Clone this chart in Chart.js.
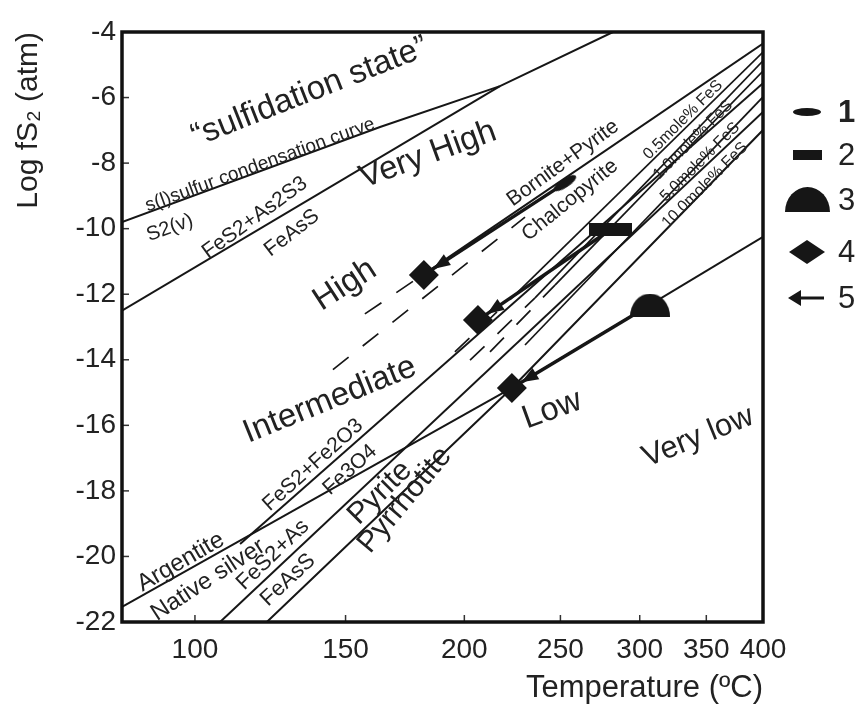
<!DOCTYPE html>
<html><head><meta charset="utf-8">
<script src="https://cdn.jsdelivr.net/npm/chart.js@4"></script>
<style>html,body{margin:0;padding:0;background:#fff}#wrap{width:859px;height:707px;position:relative}</style>
</head><body><div id="wrap"><canvas id="c"></canvas></div>
<script>
// ---- axes ----
const tempTicks = [100, 150, 200, 250, 300, 350, 400];
const yTicks = [-22, -20, -18, -16, -14, -12, -10, -8, -6, -4];
const tempMin = 79.8, tempMax = 400;
const logMin = -22, logMax = -4;

// ---- phase boundaries (temperature °C, log fS2) ----
const sulfurCurveT = [79.8, 163.4, 217.4, 282.1];
const sulfurCurveLog = [-9.8, -6.9, -5.65, -4.0];
const orpimentT = [79.8, 217.4];
const orpimentLog = [-12.5, -5.65];
const bnPyT = [188.8, 400];
const bnPyLog = [-11.05, -4.35];
const bnPyDashT = [157.4, 188.8];
const bnPyDashLog = [-12.6, -11.05];
const highIntDashT = [145.3, 230.4];
const highIntDashLog = [-14.3, -9.65];
const fes05T = [225.1, 400];
const fes05Log = [-12.02, -4.61];
const fes05DashT = [195.6, 225.1];
const fes05DashLog = [-13.76, -12.02];
const fes1T = [235.8, 400];
const fes1Log = [-12.11, -4.88];
const fes1DashT = [202.7, 235.8];
const fes1DashLog = [-14.01, -12.11];
const fes5T = [246.9, 400];
const fes5Log = [-11.72, -5.19];
const fes5DashT = [212.4, 246.9];
const fes5DashLog = [-13.76, -11.72];
const fes10T = [230.4, 400];
const fes10Log = [-13.55, -5.98];
const arsenopyriteT = [107.5, 400];
const arsenopyriteLog = [-22, -6.44];
const pyPoT = [122.3, 223.5, 400];
const pyPoLog = [-22, -14.86, -6.99];
const argentiteT = [79.8, 223.5];
const argentiteLog = [-21.54, -14.86];
const magnetiteT = [113.7, 400];
const magnetiteLog = [-19.62, -5.56];
const veryLowT = [223.5, 400];
const veryLowLog = [-14.86, -10.25];

// ---- samples ----
const sample1T = [252.6];
const sample1Log = [-8.61];
const sample2T = [280.2];
const sample2Log = [-10.04];
const sample3T = [307.2];
const sample3Log = [-12.33];
const sample4T = [181.7, 206.5, 223.5];
const sample4Log = [-11.41, -12.79, -14.86];
const arrowFromT = [252.6, 280.2, 307.2];
const arrowFromLog = [-8.61, -10.04, -12.33];
const arrowToT = [181.7, 206.5, 223.5];
const arrowToLog = [-11.41, -12.79, -14.86];

// ---- text annotations ----
const plotLabels = [
  {text:'\u201Csulfidation state\u201D', T:137.0, log:-5.83, angle:-21.5, size:33},
  {text:'s(l)sulfur condensation curve', T:120.1, log:-8.06, angle:-20, size:19},
  {text:'S2(v)', T:92.8, log:-9.98, angle:-20, size:20},
  {text:'FeS2+As2S3', T:118.4, log:-9.67, angle:-36, size:21},
  {text:'FeAsS', T:130.7, log:-10.13, angle:-38, size:21},
  {text:'Very High', T:183.5, log:-7.75, angle:-20, size:33},
  {text:'High', T:149.8, log:-11.72, angle:-33, size:33},
  {text:'Intermediate', T:144.2, log:-15.23, angle:-22, size:33},
  {text:'Bornite+Pyrite', T:251.5, log:-8.0, angle:-36, size:21},
  {text:'Chalcopyrite', T:255.6, log:-9.13, angle:-39, size:21},
  {text:'0.5mole% FeS', T:331.5, log:-6.68, angle:-45, size:16},
  {text:'1.0mole% FeS', T:339.3, log:-7.29, angle:-45, size:16},
  {text:'5.0mole% FeS', T:344.9, log:-7.97, angle:-45, size:16},
  {text:'10.0mole% FeS', T:348.9, log:-8.67, angle:-45, size:16},
  {text:'Argentite', T:95.9, log:-20.17, angle:-30, size:24},
  {text:'Native silver', T:103.9, log:-20.72, angle:-33, size:24},
  {text:'FeS2+Fe2O3', T:138.1, log:-17.21, angle:-42, size:21},
  {text:'Fe3O4', T:151.7, log:-17.36, angle:-42, size:21},
  {text:'FeS2+As', T:124.3, log:-19.95, angle:-44, size:22},
  {text:'FeAsS', T:129.4, log:-20.72, angle:-43, size:22},
  {text:'Pyrite', T:163.4, log:-18.06, angle:-45, size:30},
  {text:'Pyrrhotite', T:173.6, log:-18.28, angle:-50, size:30},
  {text:'Low', T:245.2, log:-15.53, angle:-20, size:33},
  {text:'Very low', T:343.3, log:-16.36, angle:-22, size:31}
];
const legendNumbers = ['1', '2', '3', '4', '5'];

const FONT = "'Liberation Sans', Arial, sans-serif";
const INK = '#161616';
const X = t => -1000 / (t + 273.15);
const pts = (ts, ls) => ts.map((t, i) => ({x: X(t), y: ls[i]}));
function lineDs(ts, ls, extra) {
  return Object.assign({type: 'scatter', data: pts(ts, ls), showLine: true, borderColor: INK,
    borderWidth: 1.7, pointRadius: 0, pointHoverRadius: 0, fill: false, order: 5}, extra || {});
}
const DASH = {borderDash: [20, 18]};

function mk(w, h, draw) {
  const c = document.createElement('canvas'); c.width = w; c.height = h;
  const g = c.getContext('2d'); g.fillStyle = INK; draw(g, w, h); return c;
}
const ellipseImg = mk(26, 9, (g, w, h) => { g.beginPath(); g.ellipse(w/2, h/2, w/2, h/2, 0, 0, 2*Math.PI); g.fill(); });
const ellipseLegend = mk(28, 8, (g, w, h) => { g.beginPath(); g.ellipse(w/2, h/2, w/2, h/2, 0, 0, 2*Math.PI); g.fill(); });
const rectImg = mk(43, 13, (g, w, h) => g.fillRect(0, 0, w, h));
const rectLegend = mk(29, 10, (g, w, h) => g.fillRect(0, 0, w, h));
const semiImg = mk(40, 23, (g, w, h) => { g.beginPath(); g.ellipse(w/2, h, w/2, h, 0, Math.PI, 2*Math.PI); g.closePath(); g.fill(); });
const semiLegend = mk(45, 25, (g, w, h) => { g.beginPath(); g.ellipse(w/2, h, w/2, h, 0, Math.PI, 2*Math.PI); g.closePath(); g.fill(); });

const datasets = [
  {type: 'scatter', data: pts(sample4T, sample4Log), pointStyle: 'rectRot', pointRadius: 15, backgroundColor: INK, borderWidth: 0, order: 0},
  {type: 'scatter', data: pts(sample1T, sample1Log), pointStyle: ellipseImg, pointRotation: -33, pointRadius: 10, backgroundColor: INK, borderWidth: 0, order: 0},
  {type: 'scatter', data: pts(sample2T, sample2Log), pointStyle: rectImg, pointRadius: 10, backgroundColor: INK, borderWidth: 0, order: 0},
  {type: 'scatter', data: pts(sample3T, sample3Log), pointStyle: semiImg, pointRadius: 10, backgroundColor: INK, borderWidth: 0, order: 0}
];
arrowFromT.forEach((t, i) => {
  datasets.push(lineDs([t, arrowToT[i]], [arrowFromLog[i], arrowToLog[i]], {borderWidth: 3.5, order: 1}));
});
datasets.push(
  lineDs(sulfurCurveT, sulfurCurveLog, {borderWidth: 2}),
  lineDs(orpimentT, orpimentLog, {borderWidth: 2}),
  lineDs(bnPyT, bnPyLog, {borderWidth: 2}),
  lineDs(bnPyDashT, bnPyDashLog, DASH),
  lineDs(highIntDashT, highIntDashLog, DASH),
  lineDs(fes05T, fes05Log),
  lineDs(fes05DashT, fes05DashLog, DASH),
  lineDs(fes1T, fes1Log),
  lineDs(fes1DashT, fes1DashLog, DASH),
  lineDs(fes5T, fes5Log),
  lineDs(fes5DashT, fes5DashLog, DASH),
  lineDs(fes10T, fes10Log),
  lineDs(arsenopyriteT, arsenopyriteLog, {borderWidth: 2}),
  lineDs(pyPoT, pyPoLog, {borderWidth: 2}),
  lineDs(argentiteT, argentiteLog, {borderWidth: 2}),
  lineDs(magnetiteT, magnetiteLog, {borderWidth: 2}),
  lineDs(veryLowT, veryLowLog, {borderWidth: 2})
);

const decor = {
  id: 'decor',
  afterDatasetsDraw(chart) {
    const ctx = chart.ctx, xs = chart.scales.x, ys = chart.scales.y;
    ctx.save();
    ctx.fillStyle = INK;
    arrowFromT.forEach((t, i) => {
      const x0 = xs.getPixelForValue(X(t)), y0 = ys.getPixelForValue(arrowFromLog[i]);
      const x1 = xs.getPixelForValue(X(arrowToT[i])), y1 = ys.getPixelForValue(arrowToLog[i]);
      const L = Math.hypot(x1 - x0, y1 - y0), dx = (x1 - x0) / L, dy = (y1 - y0) / L;
      const tx = x1 - dx * 11, ty = y1 - dy * 11, bx = tx - dx * 17, by = ty - dy * 17;
      ctx.beginPath(); ctx.moveTo(tx, ty);
      ctx.lineTo(bx - dy * 6.5, by + dx * 6.5); ctx.lineTo(bx + dy * 6.5, by - dx * 6.5);
      ctx.closePath(); ctx.fill();
    });
    ctx.fillStyle = '#222'; ctx.textAlign = 'center'; ctx.textBaseline = 'middle';
    plotLabels.forEach(l => {
      ctx.save();
      ctx.translate(xs.getPixelForValue(X(l.T)), ys.getPixelForValue(l.log));
      ctx.rotate(l.angle * Math.PI / 180);
      ctx.font = l.size + 'px ' + FONT;
      ctx.fillText(l.text, 0, 0);
      ctx.restore();
    });
    ctx.restore();
  },
  afterDraw(chart) {
    const ctx = chart.ctx, a = chart.chartArea, xs = chart.scales.x, ys = chart.scales.y;
    ctx.save();
    ctx.strokeStyle = '#333'; ctx.lineWidth = 1.5;
    xs.ticks.forEach(t => { const p = xs.getPixelForValue(t.value); ctx.beginPath(); ctx.moveTo(p, a.bottom); ctx.lineTo(p, a.bottom - 7); ctx.stroke(); });
    ys.ticks.forEach(t => { const p = ys.getPixelForValue(t.value); ctx.beginPath(); ctx.moveTo(a.left, p); ctx.lineTo(a.left + 7, p); ctx.stroke(); });
    ctx.strokeStyle = '#111'; ctx.lineWidth = 3.5;
    ctx.strokeRect(a.left, a.top, a.right - a.left, a.bottom - a.top);
    const lx = a.right + 44;
    const rows = [112, 155, 200, 252, 298];
    ctx.drawImage(ellipseLegend, lx - 14, rows[0] - 4);
    ctx.drawImage(rectLegend, lx - 14, rows[1] - 5);
    ctx.drawImage(semiLegend, lx - 22, rows[2] + 12 - 25);
    ctx.fillStyle = INK;
    ctx.beginPath(); ctx.moveTo(lx - 18, rows[3]); ctx.lineTo(lx, rows[3] - 12); ctx.lineTo(lx + 18, rows[3]); ctx.lineTo(lx, rows[3] + 12); ctx.closePath(); ctx.fill();
    ctx.strokeStyle = INK; ctx.lineWidth = 3;
    ctx.beginPath(); ctx.moveTo(lx - 8, rows[4]); ctx.lineTo(lx + 17, rows[4]); ctx.stroke();
    ctx.beginPath(); ctx.moveTo(lx - 19, rows[4]); ctx.lineTo(lx - 6, rows[4] - 8); ctx.lineTo(lx - 6, rows[4] + 8); ctx.closePath(); ctx.fill();
    ctx.textAlign = 'left'; ctx.textBaseline = 'middle'; ctx.fillStyle = '#222';
    legendNumbers.forEach((n, i) => {
      ctx.font = (i === 0 ? 'bold ' : '') + '31px ' + FONT;
      ctx.fillText(n, lx + 31, rows[i] + 1);
    });
    ctx.restore();
  }
};

new Chart(document.getElementById('c'), {
  type: 'scatter',
  data: {datasets},
  options: {
    responsive: true, maintainAspectRatio: false, animation: false,
    layout: {padding: {left: 0, right: 96, top: 32, bottom: 0}},
    plugins: {legend: {display: false}, tooltip: {enabled: false}},
    events: [],
    scales: {
      x: {
        type: 'linear', min: X(tempMin), max: X(tempMax),
        afterBuildTicks: s => { s.ticks = tempTicks.map(t => ({value: X(t)})); },
        afterFit: s => { s.height = 85; },
        ticks: {autoSkip: false, maxRotation: 0, minRotation: 0, padding: 11, color: '#222',
          font: {family: FONT, size: 28}, callback: (v, i) => String(tempTicks[i])},
        grid: {display: false, drawTicks: false}, border: {display: false},
        title: {display: true, text: 'Temperature (ºC)', align: 'end', color: '#222',
          font: {family: FONT, size: 31}, padding: {top: 0, bottom: 0}}
      },
      y: {
        type: 'linear', min: logMin, max: logMax,
        afterBuildTicks: s => { s.ticks = yTicks.map(v => ({value: v})); },
        afterFit: s => { s.width = 122; },
        ticks: {padding: 6, color: '#222', font: {family: FONT, size: 28}},
        grid: {display: false, drawTicks: false}, border: {display: false},
        title: {display: true, text: 'Log fS₂ (atm)', align: 'end', color: '#222',
          font: {family: FONT, size: 30}, padding: {top: 11, bottom: 0}}
      }
    }
  },
  plugins: [decor]
});
</script></body></html>
